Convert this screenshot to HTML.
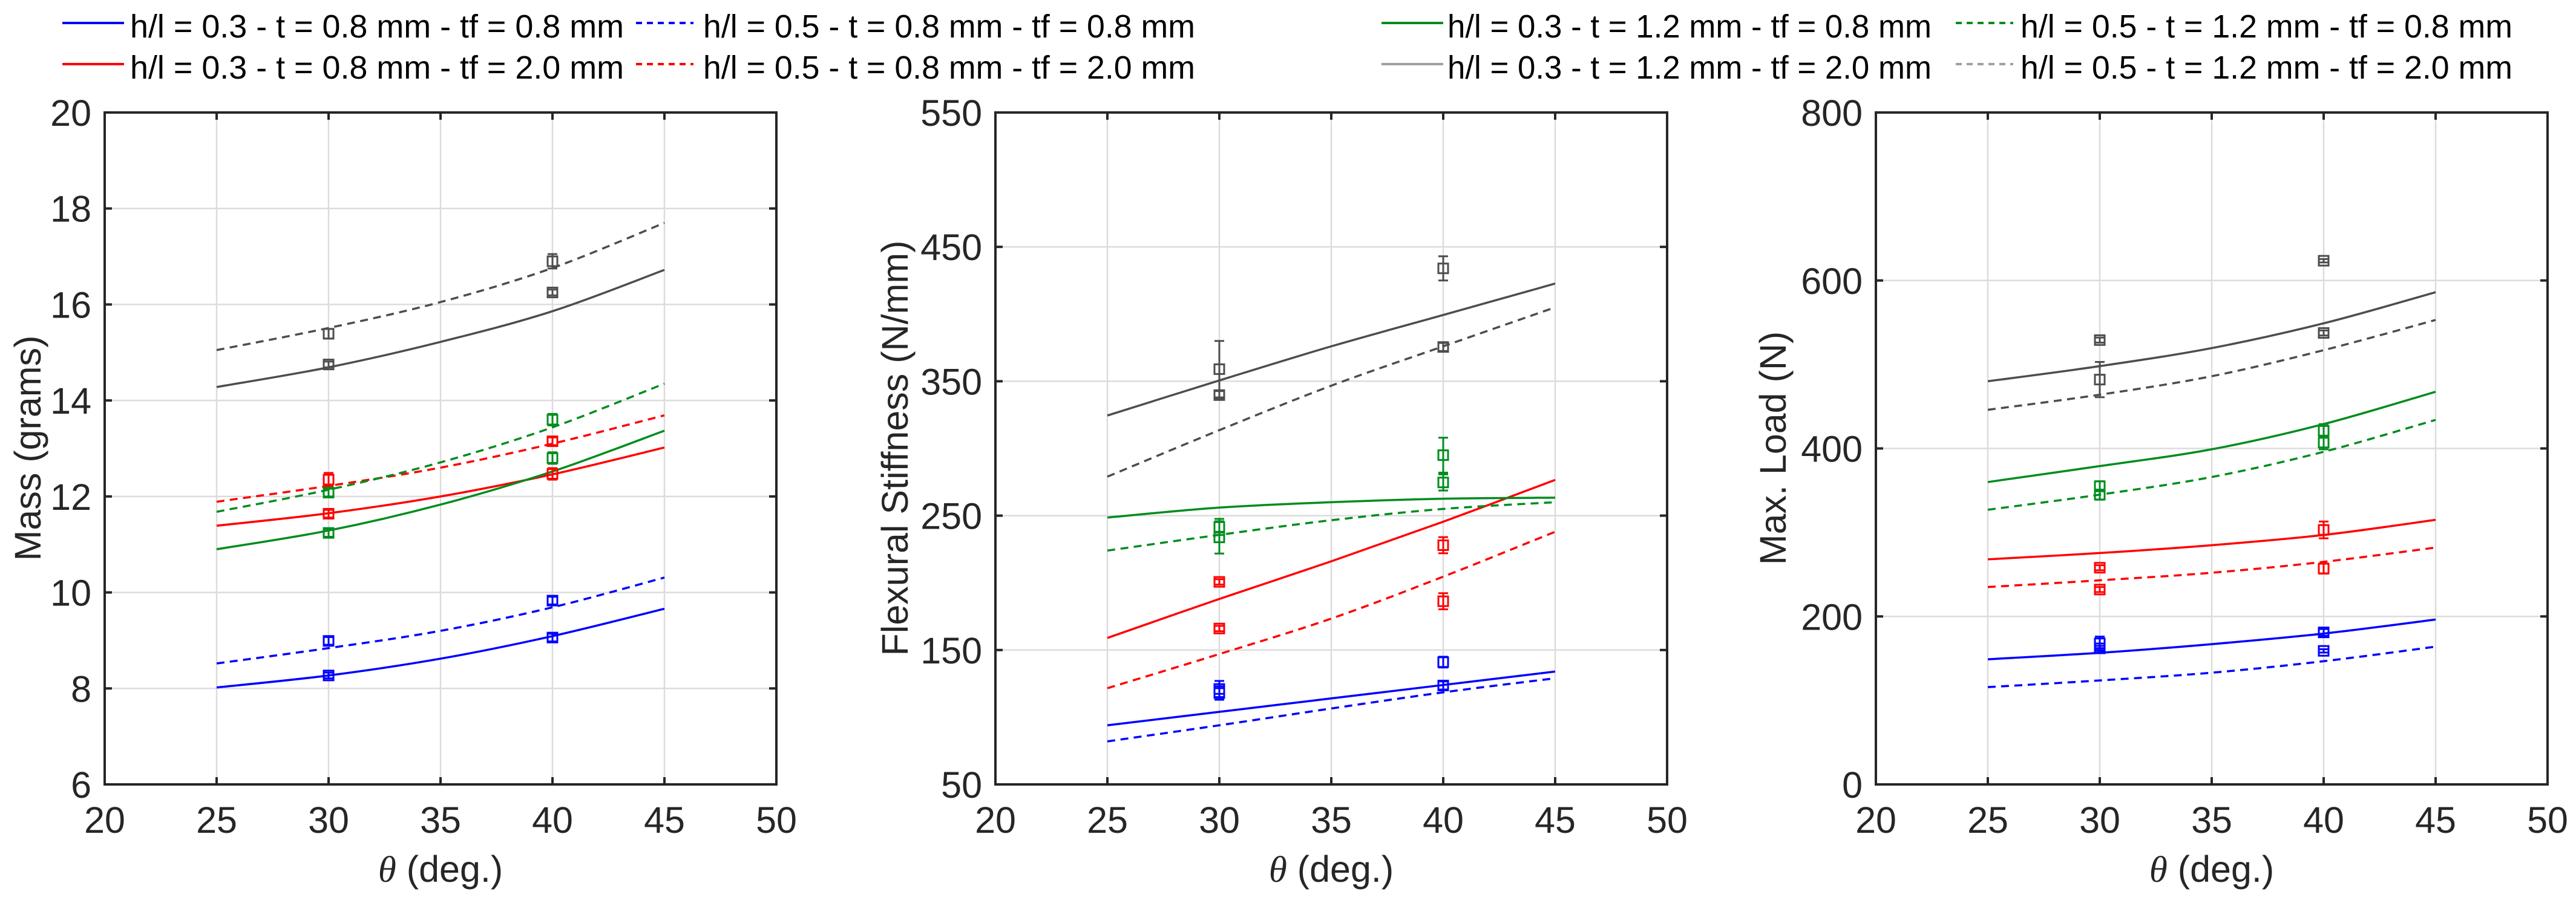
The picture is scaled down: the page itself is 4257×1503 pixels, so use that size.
<!DOCTYPE html>
<html><head><meta charset="utf-8">
<style>
html,body{margin:0;padding:0;background:#fff;}
svg{display:block;font-family:"Liberation Sans",Arial,sans-serif;}
</style></head>
<body>
<svg id="fig" width="4257" height="1503" viewBox="0 0 4257 1503" xmlns="http://www.w3.org/2000/svg">
<g id="legend"></g>
<g id="panels"></g>
</svg>
<script>
// ---- shared data ----
const thetaCurve = [25, 30, 35, 40, 45];
const thetaPts = [30, 40];
const seriesNames = ["h/l = 0.3 - t = 0.8 mm - tf = 0.8 mm","h/l = 0.5 - t = 0.8 mm - tf = 0.8 mm",
  "h/l = 0.3 - t = 0.8 mm - tf = 2.0 mm","h/l = 0.5 - t = 0.8 mm - tf = 2.0 mm",
  "h/l = 0.3 - t = 1.2 mm - tf = 0.8 mm","h/l = 0.5 - t = 1.2 mm - tf = 0.8 mm",
  "h/l = 0.3 - t = 1.2 mm - tf = 2.0 mm","h/l = 0.5 - t = 1.2 mm - tf = 2.0 mm"];
const xTicks = [20, 25, 30, 35, 40, 45, 50];

// Mass (grams)
const massCurves = [
  [8.02, 8.27, 8.62, 9.09, 9.66], [8.52, 8.84, 9.2, 9.69, 10.31],
  [11.39, 11.65, 12.0, 12.46, 13.02], [11.89, 12.22, 12.6, 13.1, 13.69],
  [10.9, 11.29, 11.83, 12.52, 13.37], [11.68, 12.14, 12.71, 13.44, 14.35],
  [14.28, 14.69, 15.22, 15.86, 16.72], [15.05, 15.51, 16.05, 16.76, 17.7]];
const massPts = [[8.27, 9.06],[8.99, 9.83],[11.64, 12.47],[12.35, 13.15],[11.24, 12.8],[12.08, 13.6],[14.75, 16.25],[15.39, 16.9]];
const massErr = [[0.06,0.08],[0.08,0.08],[0.08,0.12],[0.14,0.08],[0.08,0.12],[0.08,0.12],[0.06,0.06],[0.1,0.15]];
const massTicks = [6, 8, 10, 12, 14, 16, 18, 20];

// Flexural stiffness (N/mm)
const stiffCurves = [
  [94, 104, 114, 124, 134], [82, 94, 106.5, 118.5, 129],
  [159, 188, 216, 245.5, 276.6], [121.6, 147, 173.4, 204.6, 238],
  [248.6, 256, 260, 262.6, 263.4], [224, 235.7, 246.6, 255, 260],
  [324.5, 350.6, 376, 399.3, 422.7], [279, 313.6, 346.7, 376, 405]];
const stiffPts = [[121, 141],[118, 123.6],[200.7, 228],[166, 186.3],[241.6, 295],[233.8, 274.7],[359, 375.5],[339.7, 434]];
const stiffErr = [[6,4],[5,3],[2,6],[2,6],[6,13],[12,6],[21,3],[3,9]];
const stiffTicks = [50, 150, 250, 350, 450, 550];

// Max load (N)
const loadCurves = [
  [149, 156.7, 167, 179.6, 196.3], [115.8, 123.8, 133, 146.7, 164],
  [268, 275.5, 284.8, 297, 315], [235, 243, 252, 265, 282],
  [360, 379, 399, 429, 467.5], [327, 345, 366, 396, 434],
  [480, 498, 519.5, 549, 586], [446, 464, 486, 517, 553]];
const loadPts = [[168, 181],[162, 159],[258, 303],[232, 257],[355, 421],[345, 407],[529, 537.5],[482, 623.5]];
const loadErr = [[8,4],[3,2],[3,10],[3,6],[6,8],[6,8],[3,3],[21,2]];
const loadTicks = [0, 200, 400, 600, 800];

const colors = ["#0000ff","#0000ff","#ff0000","#ff0000","#008c1e","#008c1e","#4d4d4d","#4d4d4d"];
const dashed = [false,true,false,true,false,true,false,true];

const NS = "http://www.w3.org/2000/svg";
function mk(tag, attrs, parent){
  const e = document.createElementNS(NS, tag);
  for (const k in attrs) e.setAttribute(k, attrs[k]);
  parent.appendChild(e); return e;
}

// ---- legend ----
const leg = document.getElementById('legend');
const legLayout = [
  {lx:103, tx:215, y:38, w:816},{lx:1051, tx:1162, y:38, w:813},
  {lx:103, tx:215, y:106, w:816},{lx:1051, tx:1162, y:106, w:813},
  {lx:2283, tx:2392, y:38, w:800},{lx:3232, tx:3339, y:38, w:813},
  {lx:2283, tx:2392, y:106, w:800},{lx:3232, tx:3339, y:106, w:813}];
const legLineColors = ["#0000ff","#0000ff","#ff0000","#ff0000","#008c1e","#008c1e","#a0a0a0","#a0a0a0"];
legLayout.forEach((L, i) => {
  const g = mk('g', {}, leg);
  
  
  const ln = mk('line', {x1:L.lx, x2:L.lx+(dashed[i]?95:102), y1:L.y, y2:L.y, stroke:legLineColors[i], 'stroke-width':4, 'stroke-dasharray': dashed[i]?'10 8':'none'}, g);
  
  
  const t = mk('text', {x:L.tx, y:L.y+24, 'font-size':54, fill:'#000', textLength:L.w, lengthAdjust:'spacingAndGlyphs'}, g);
  
  
  t.textContent = seriesNames[i];
});

// ---- panels ----
const panels = [
  {name:'mass-chart', left:173, right:1283, ticks:massTicks, curves:massCurves, pts:massPts, err:massErr, title:'Mass (grams)', tx:46},
  {name:'stiffness-chart', left:1645, right:2755, ticks:stiffTicks, curves:stiffCurves, pts:stiffPts, err:stiffErr, title:'Flexural Stiffness (N/mm)', tx:1479},
  {name:'load-chart', left:3100, right:4210, ticks:loadTicks, curves:loadCurves, pts:loadPts, err:loadErr, title:'Max. Load (N)', tx:2930}];
const TOP = 186, BOT = 1297;
const root = document.getElementById('panels');

function catmull(pts){
  let d = 'M' + pts[0][0] + ',' + pts[0][1];
  for (let i=0;i<pts.length-1;i++){
    const p0 = pts[Math.max(0,i-1)], p1 = pts[i], p2 = pts[i+1], p3 = pts[Math.min(pts.length-1,i+2)];
    const c1x = p1[0]+(p2[0]-p0[0])/6, c1y = p1[1]+(p2[1]-p0[1])/6;
    const c2x = p2[0]-(p3[0]-p1[0])/6, c2y = p2[1]-(p3[1]-p1[1])/6;
    d += ' C' + c1x + ',' + c1y + ' ' + c2x + ',' + c2y + ' ' + p2[0] + ',' + p2[1];
  }
  return d;
}

panels.forEach(P => {
  const g = mk('g', {}, root);
  
  
  const ymin = P.ticks[0], ymax = P.ticks[P.ticks.length-1];
  const xs = v => P.left + (v - xTicks[0]) / (xTicks[xTicks.length-1] - xTicks[0]) * (P.right - P.left);
  const ys = v => BOT - (v - ymin) / (ymax - ymin) * (BOT - TOP);

  // grid
  const grid = mk('g', {stroke:'#dcdcdc', 'stroke-width':2.5}, g);
  
  
  xTicks.forEach(t => mk('line', {x1:xs(t), x2:xs(t), y1:TOP, y2:BOT}, grid));
  P.ticks.forEach(t => mk('line', {x1:P.left, x2:P.right, y1:ys(t), y2:ys(t)}, grid));

  // series
  P.curves.forEach((c, i) => {
    const pts = c.map((v, j) => [xs(thetaCurve[j]), ys(v)]);
    const path = mk('path', {d:catmull(pts), fill:'none', stroke:colors[i], 'stroke-width':3.5, 'stroke-dasharray': dashed[i]?'13 9':'none'}, g);
    
    
  });
  P.pts.forEach((row, i) => {
    row.forEach((v, j) => {
      const x = xs(thetaPts[j]), y = ys(v), e = P.err[i][j];
      const mg = mk('g', {stroke:colors[i], 'stroke-width':3, fill:'none'}, g);
      
      
      const y1 = ys(v + e), y2 = ys(v - e);
      mk('line', {x1:x, x2:x, y1:y1, y2:y2}, mg);
      mk('line', {x1:x-8, x2:x+8, y1:y1, y2:y1}, mg);
      mk('line', {x1:x-8, x2:x+8, y1:y2, y2:y2}, mg);
      mk('rect', {x:x-8, y:y-8, width:16, height:16}, mg);
    });
  });

  // axes box and ticks
  const ax = mk('g', {stroke:'#262626', 'stroke-width':4, fill:'none'}, g);
  
  
  mk('rect', {x:P.left, y:TOP, width:P.right-P.left, height:BOT-TOP}, ax);
  xTicks.forEach(t => { mk('line', {x1:xs(t), x2:xs(t), y1:BOT, y2:BOT-12}, ax); mk('line', {x1:xs(t), x2:xs(t), y1:TOP, y2:TOP+12}, ax); });
  P.ticks.forEach(t => { mk('line', {x1:P.left, x2:P.left+12, y1:ys(t), y2:ys(t)}, ax); mk('line', {x1:P.right, x2:P.right-12, y1:ys(t), y2:ys(t)}, ax); });

  // tick labels
  const xl = mk('g', {'font-size':61, fill:'#262626', 'text-anchor':'middle'}, g);
  
  
  xTicks.forEach(t => { const tt = mk('text', {x:xs(t), y:BOT+80}, xl); tt.textContent = t; });
  const yl = mk('g', {'font-size':61, fill:'#262626', 'text-anchor':'end'}, g);
  
  
  P.ticks.forEach(t => { const tt = mk('text', {x:P.left-22, y:ys(t)+22}, yl); tt.textContent = t; });

  // titles
  const xt = mk('text', {x:(P.left+P.right)/2, y:1458, 'font-size':61, fill:'#262626', 'text-anchor':'middle'}, g);
  
  
  const th = mk('tspan', {'font-family':'"Liberation Serif",serif', 'font-style':'italic'}, xt); th.textContent = 'θ';
  const rest = mk('tspan', {}, xt); rest.textContent = ' (deg.)';
  const yt = mk('text', {x:P.tx, y:741, 'font-size':61, fill:'#262626', 'text-anchor':'middle', 'dominant-baseline':'central', transform:'rotate(-90 ' + P.tx + ' 741)'}, g);
  
  
  yt.textContent = P.title;
});
</script>
</body></html>
